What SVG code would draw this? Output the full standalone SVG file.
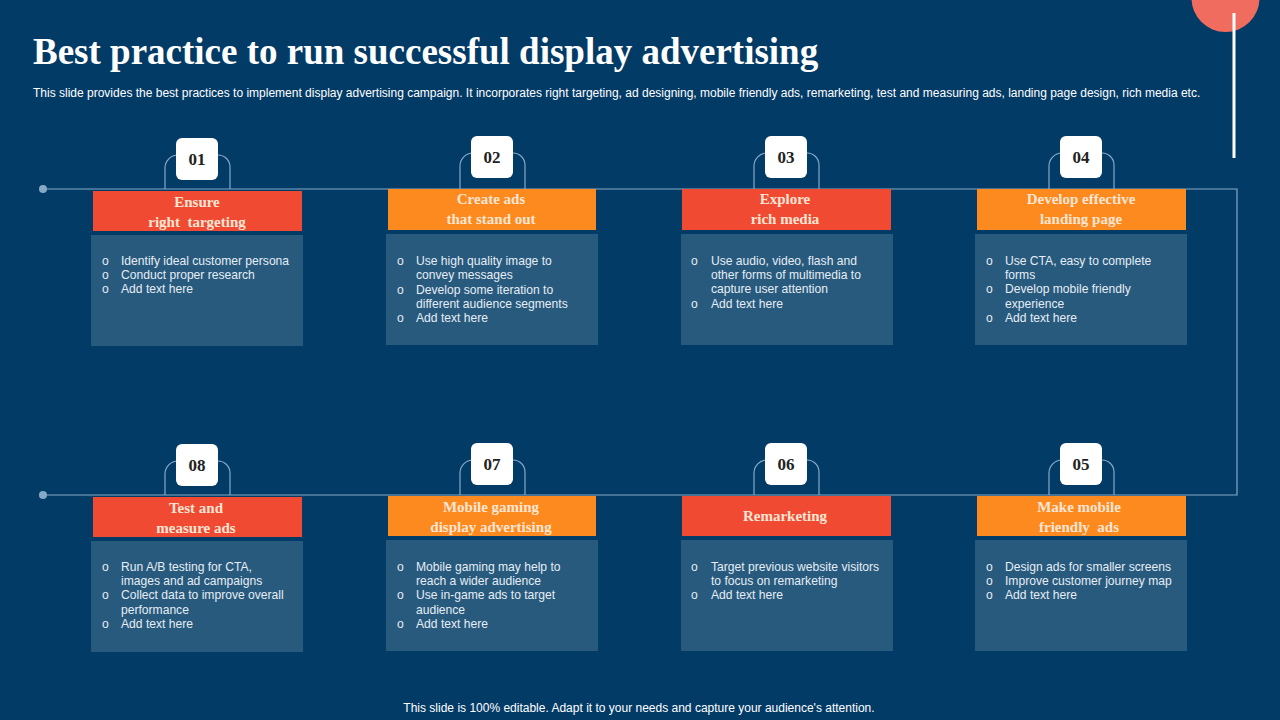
<svg xmlns="http://www.w3.org/2000/svg" width="1280" height="720" viewBox="0 0 1280 720">
<defs>
<style>
.bg{fill:#033b67}
.conn{fill:none;stroke:#86a9c8;stroke-width:1.2}
.dot{fill:#86a9c8}
.red{fill:#f04b32}
.org{fill:#fd8a1e}
.body{fill:#285a7e}
.num{fill:#ffffff}
.numt{font-family:"Liberation Serif",serif;font-weight:bold;font-size:17px;fill:#222;text-anchor:middle}
.ht{font-family:"Liberation Serif",serif;font-weight:bold;font-size:15px;fill:#fde6d6;text-anchor:middle}
.bt{font-family:"Liberation Sans",Arial,sans-serif;font-size:12.1px;fill:#e6edf4}
.title{font-family:"Liberation Serif",serif;font-weight:bold;font-size:37px;fill:#fff}
.sub{font-family:"Liberation Sans",Arial,sans-serif;font-size:12px;fill:#fff}
</style>
</defs>
<rect class="bg" x="0" y="0" width="1280" height="720"/>
<circle cx="1225.5" cy="-2" r="34" fill="#f06c5e"/>
<rect x="1232.5" y="13" width="3" height="145" fill="#fff"/>
<text class="title" x="33" y="64">Best practice to run successful display advertising</text>
<text class="sub" x="33" y="97">This slide provides the best practices to implement display advertising campaign. It incorporates right targeting, ad designing, mobile friendly ads, remarketing, test and measuring ads, landing page design, rich media etc.</text>

<g id="connectors">
<circle class="dot" cx="43" cy="189" r="4"/>
<circle class="dot" cx="43" cy="495" r="4"/>
<path class="conn" d="M43,189 H1237 V495 H43"/>
<path class="conn" d="M165,189 V168 A13,13 0 0 1 178,155 H218 A12,12 0 0 1 230,167 V189"/>
<path class="conn" d="M460,189 V166 A13,13 0 0 1 473,153 H513 A12,12 0 0 1 525,165 V189"/>
<path class="conn" d="M754,189 V166 A13,13 0 0 1 767,153 H807 A12,12 0 0 1 819,165 V189"/>
<path class="conn" d="M1049,189 V166 A13,13 0 0 1 1062,153 H1102 A12,12 0 0 1 1114,165 V189"/>
<path class="conn" d="M165,495 V474 A13,13 0 0 1 178,461 H218 A12,12 0 0 1 230,473 V495"/>
<path class="conn" d="M460,495 V473 A13,13 0 0 1 473,460 H513 A12,12 0 0 1 525,472 V495"/>
<path class="conn" d="M754,495 V473 A13,13 0 0 1 767,460 H807 A12,12 0 0 1 819,472 V495"/>
<path class="conn" d="M1049,495 V473 A13,13 0 0 1 1062,460 H1102 A12,12 0 0 1 1114,472 V495"/>
</g>

<g id="node01">
<rect class="num" x="176" y="138" width="42" height="42" rx="6"/>
<text class="numt" x="197" y="165">01</text>
<rect class="red" x="93" y="191" width="209" height="40"/>
<text class="ht" x="197" y="207">Ensure</text>
<text class="ht" x="197" y="227" xml:space="preserve">right  targeting</text>
<rect class="body" x="91" y="235" width="212" height="111"/>
<text class="bt"><tspan x="102" y="265">o</tspan><tspan x="121" y="265">Identify ideal customer persona</tspan><tspan x="102" y="279">o</tspan><tspan x="121" y="279">Conduct proper research</tspan><tspan x="102" y="293">o</tspan><tspan x="121" y="293">Add text here</tspan></text>
</g>

<g id="node02">
<rect class="num" x="471" y="136" width="42" height="42" rx="6"/>
<text class="numt" x="492" y="163">02</text>
<rect class="org" x="388" y="189" width="208" height="41"/>
<text class="ht" x="491" y="204">Create ads</text>
<text class="ht" x="491" y="224">that stand out</text>
<rect class="body" x="386" y="234" width="212" height="111"/>
<text class="bt"><tspan x="397" y="265">o</tspan><tspan x="416" y="265">Use high quality image to</tspan><tspan x="416" y="279">convey messages</tspan><tspan x="397" y="294">o</tspan><tspan x="416" y="294">Develop some iteration to</tspan><tspan x="416" y="308">different audience segments</tspan><tspan x="397" y="322">o</tspan><tspan x="416" y="322">Add text here</tspan></text>
</g>

<g id="node03">
<rect class="num" x="765" y="136" width="42" height="42" rx="6"/>
<text class="numt" x="786" y="163">03</text>
<rect class="red" x="682" y="189" width="209" height="41"/>
<text class="ht" x="785" y="204">Explore</text>
<text class="ht" x="785" y="224">rich media</text>
<rect class="body" x="681" y="234" width="212" height="111"/>
<text class="bt"><tspan x="691" y="265">o</tspan><tspan x="711" y="265">Use audio, video, flash and</tspan><tspan x="711" y="279">other forms of multimedia to</tspan><tspan x="711" y="293">capture user attention</tspan><tspan x="691" y="308">o</tspan><tspan x="711" y="308">Add text here</tspan></text>
</g>

<g id="node04">
<rect class="num" x="1060" y="136" width="42" height="42" rx="6"/>
<text class="numt" x="1081" y="163">04</text>
<rect class="org" x="977" y="189" width="209" height="41"/>
<text class="ht" x="1081" y="204">Develop effective</text>
<text class="ht" x="1081" y="224">landing page</text>
<rect class="body" x="975" y="234" width="212" height="111"/>
<text class="bt"><tspan x="986" y="265">o</tspan><tspan x="1005" y="265">Use CTA, easy to complete</tspan><tspan x="1005" y="279">forms</tspan><tspan x="986" y="293">o</tspan><tspan x="1005" y="293">Develop mobile friendly</tspan><tspan x="1005" y="308">experience</tspan><tspan x="986" y="322">o</tspan><tspan x="1005" y="322">Add text here</tspan></text>
</g>

<g id="node05">
<rect class="num" x="1060" y="443" width="42" height="42" rx="6"/>
<text class="numt" x="1081" y="470">05</text>
<rect class="org" x="977" y="496" width="209" height="40"/>
<text class="ht" x="1079" y="512">Make mobile</text>
<text class="ht" x="1079" y="532" xml:space="preserve">friendly  ads</text>
<rect class="body" x="975" y="540" width="212" height="111"/>
<text class="bt"><tspan x="986" y="571">o</tspan><tspan x="1005" y="571">Design ads for smaller screens</tspan><tspan x="986" y="585">o</tspan><tspan x="1005" y="585">Improve customer journey map</tspan><tspan x="986" y="599">o</tspan><tspan x="1005" y="599">Add text here</tspan></text>
</g>

<g id="node06">
<rect class="num" x="765" y="443" width="42" height="42" rx="6"/>
<text class="numt" x="786" y="470">06</text>
<rect class="red" x="682" y="496" width="209" height="40"/>
<text class="ht" x="785" y="521">Remarketing</text>
<rect class="body" x="681" y="540" width="212" height="111"/>
<text class="bt"><tspan x="691" y="571">o</tspan><tspan x="711" y="571">Target previous website visitors</tspan><tspan x="711" y="585">to focus on remarketing</tspan><tspan x="691" y="599">o</tspan><tspan x="711" y="599">Add text here</tspan></text>
</g>

<g id="node07">
<rect class="num" x="471" y="443" width="42" height="42" rx="6"/>
<text class="numt" x="492" y="470">07</text>
<rect class="org" x="388" y="496" width="208" height="40"/>
<text class="ht" x="491" y="512">Mobile gaming</text>
<text class="ht" x="491" y="532">display advertising</text>
<rect class="body" x="386" y="540" width="212" height="111"/>
<text class="bt"><tspan x="397" y="571">o</tspan><tspan x="416" y="571">Mobile gaming may help to</tspan><tspan x="416" y="585">reach a wider audience</tspan><tspan x="397" y="599">o</tspan><tspan x="416" y="599">Use in-game ads to target</tspan><tspan x="416" y="614">audience</tspan><tspan x="397" y="628">o</tspan><tspan x="416" y="628">Add text here</tspan></text>
</g>

<g id="node08">
<rect class="num" x="176" y="444" width="42" height="42" rx="6"/>
<text class="numt" x="197" y="471">08</text>
<rect class="red" x="93" y="497" width="209" height="40"/>
<text class="ht" x="196" y="513">Test and</text>
<text class="ht" x="196" y="533">measure ads</text>
<rect class="body" x="91" y="541" width="212" height="111"/>
<text class="bt"><tspan x="102" y="571">o</tspan><tspan x="121" y="571">Run A/B testing for CTA,</tspan><tspan x="121" y="585">images and ad campaigns</tspan><tspan x="102" y="599">o</tspan><tspan x="121" y="599">Collect data to improve overall</tspan><tspan x="121" y="614">performance</tspan><tspan x="102" y="628">o</tspan><tspan x="121" y="628">Add text here</tspan></text>
</g>

<text class="sub" x="639" y="712" text-anchor="middle">This slide is 100% editable. Adapt it to your needs and capture your audience's attention.</text>
</svg>
